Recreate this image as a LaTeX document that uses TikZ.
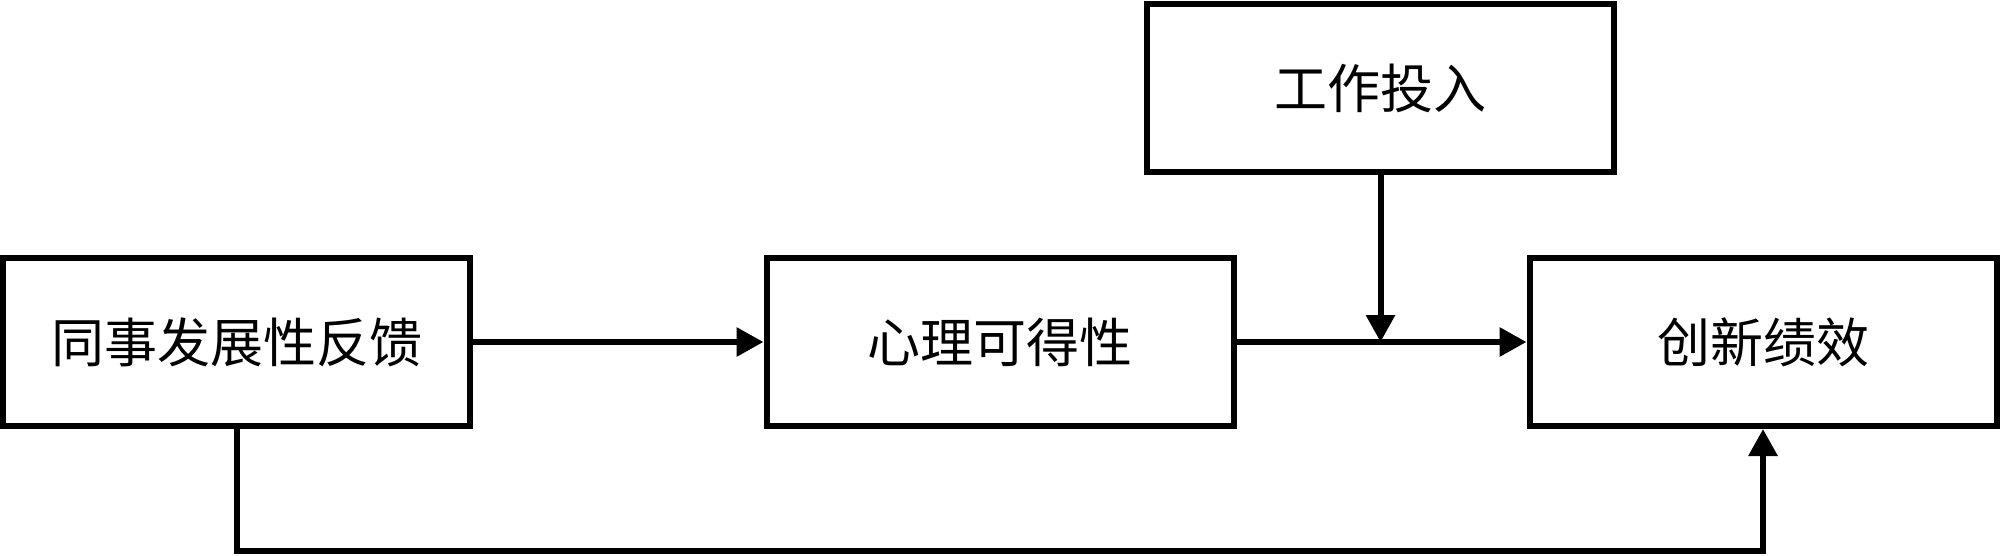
\documentclass[tikz,border=0pt]{standalone}
\usepackage{fontspec}
\newfontfamily\cjk{Noto Sans CJK SC}
\usetikzlibrary{arrows.meta}
\begin{document}
\begin{tikzpicture}[x=0.5pt,y=-0.5pt,
  box/.style={draw=black,line width=3pt,minimum width=233.5pt,minimum height=84pt,inner sep=0pt,
    font=\cjk\fontsize{26.5pt}{30pt}\selectfont},
  conn/.style={line width=3pt,line join=miter},
  arr/.style={conn,-{Triangle[length=13.5pt,width=14pt]}}]
\useasboundingbox (0,0) rectangle (2000,556);
\node[box] (fb) at (236.5,342) {同事发展性反馈};
\node[box] (ps) at (1000,342) {心理可得性};
\node[box] (ip) at (1763,342) {创新绩效};
\node[box] (we) at (1380.5,88) {工作投入};
\coordinate (bl) at (236.5,551);
\coordinate (br) at (1763,551);
\draw[arr] (fb.east) -- (ps.west);
\draw[arr] (ps.east) -- (ip.west);
\coordinate (mj) at (we.south |- ps.east);
\draw[arr] (we.south) -- (mj);
\draw[arr] (fb.south) -- (bl) -- (br) -- (ip.south);
\end{tikzpicture}
\end{document}
